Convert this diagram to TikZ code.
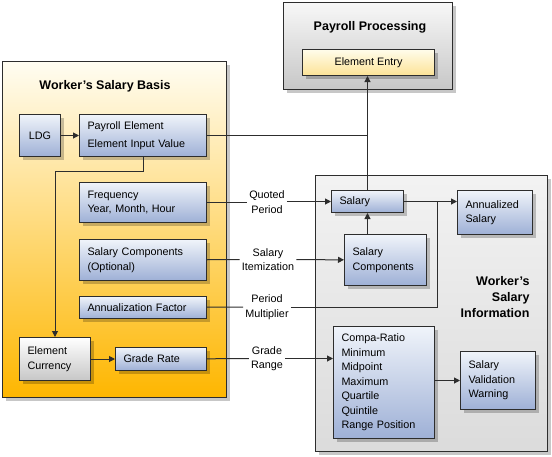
\documentclass[tikz,border=0pt]{standalone}
\usepackage{fontspec}
\setmainfont{Liberation Sans}
\usetikzlibrary{arrows.meta,shadows,calc}

\definecolor{edge}{RGB}{45,45,45}
\definecolor{bluetop}{RGB}{240,244,250}
\definecolor{bluebot}{RGB}{158,176,214}
\definecolor{orgtop}{RGB}{255,253,242}
\definecolor{orgbot}{RGB}{254,182,0}
\definecolor{yeltop}{RGB}{255,252,235}
\definecolor{yelbot}{RGB}{252,226,150}

\begin{document}
\begin{tikzpicture}[x=1pt, y=-1pt,
	every node/.style={font=\fontsize{10.8}{14.5}\selectfont, text=black},
	shade/.style={drop shadow={shadow xshift=3pt, shadow yshift=-3pt, fill=black, opacity=.22}},
	frame/.style={draw=edge, line width=1.1pt, anchor=north west, inner sep=0pt, shade},
	bluebox/.style={draw=edge, line width=1pt, anchor=north west, shade,
		top color=bluetop, bottom color=bluebot, align=left, inner xsep=8pt, inner ysep=0pt},
	graybox/.style={bluebox, top color=white, bottom color=black!22},
	title/.style={font=\bfseries\fontsize{12.5}{16}\selectfont},
	tag/.style={align=center, inner sep=2pt},
	link/.style={draw=edge, line width=1pt},
	arr/.style={link, -{Triangle[length=6pt,width=6pt]}}]
	\useasboundingbox (0,0) rectangle (552,456);

	% outer frames
	\node[frame, minimum width=224pt, minimum height=336pt,
		top color=orgtop, bottom color=orgbot] (basis) at (2,61) {};
	\node[frame, minimum width=169pt, minimum height=87pt,
		top color=black!3, bottom color=black!22] (proc) at (283,2) {};
	\node[frame, minimum width=232pt, minimum height=276pt,
		top color=black!5, bottom color=black!14] (info) at (315,175) {};

	\node[title] (basist) at (105,86) {Worker’s Salary Basis};
	\node[title] (proct) at (370,27) {Payroll Processing};
	\node[title, anchor=north east, align=right]
		(infot) at (533,273) {Worker’s\\Salary\\Information};

	% payroll processing
	\node[bluebox, top color=yeltop, bottom color=yelbot, align=center,
		minimum width=132pt, minimum height=26pt] (entry) at (302,49) {Element Entry};

	% salary basis
	\node[bluebox, align=center, minimum width=41pt, minimum height=42pt, inner xsep=0pt] (ldg) at (19,114) {LDG};
	\node[bluebox, text width=111pt, minimum height=42pt] (payel) at (79,114) {Payroll Element\\[4pt]Element Input Value};
	\node[bluebox, text width=111pt, minimum height=40pt] (freq) at (79,182) {Frequency\\Year, Month, Hour};
	\node[bluebox, text width=111pt, minimum height=41pt] (comp) at (79,239) {Salary Components\\(Optional)};
	\node[bluebox, text width=111pt, minimum height=22pt] (annf) at (79,296) {Annualization Factor};
	\node[graybox, text width=55pt, minimum height=43pt] (cur) at (19,337) {Element\\Currency};
	\node[bluebox, text width=75pt, minimum height=23pt] (grade) at (115,347) {Grade Rate};

	% salary information
	\node[bluebox, text width=56pt, minimum height=22pt] (sal) at (331,190) {Salary};
	\node[bluebox, text width=59pt, minimum height=44pt] (annsal) at (457,190) {Annualized\\Salary};
	\node[bluebox, text width=66pt, minimum height=51pt] (salcomp) at (344,234) {Salary\\Components};
	\node[bluebox, text width=85pt, minimum height=112pt] (compa) at (333,326)
		{Compa-Ratio\\Minimum\\Midpoint\\Maximum\\Quartile\\Quintile\\Range Position};
	\node[bluebox, text width=59pt, minimum height=58pt] (warn) at (460,351) {Salary\\Validation\\Warning};

	% connector labels
	\node[tag] (lquot) at (267,202) {Quoted\\Period};
	\node[tag] (litem) at (268,259.5) {Salary\\Itemization};
	\node[tag] (lmult) at (267,307) {Period\\Multiplier};
	\node[tag] (lgrade) at (267,358.5) {Grade\\Range};
	\coordinate (jn) at (437,201);

	% connectors
	\draw[arr] (ldg) -- (payel);
	\draw[link] (payel.east) -- (payel.east -| sal.north);
	\draw[arr] (sal.north) -- (sal.north |- entry.south);
	\draw[arr] (payel.south) -- ++(0,14) -| (cur.north);
	\draw[arr] (cur) -- (grade);
	\draw[link] (freq.east) -- (lquot.west |- freq.east);
	\draw[arr] (lquot.east |- sal.west) -- (sal.west);
	\draw[link] (comp) -- (litem);
	\draw[arr] (litem) -- (salcomp);
	\draw[link] (annf) -- (lmult);
	\draw[link] (lmult.east) -| (jn);
	\draw[arr] (sal.east) -- (sal.east -| annsal.west);
	\draw[arr] (sal.south |- salcomp.north) -- (sal.south);
	\draw[link] (grade) -- (lgrade);
	\draw[arr] (lgrade.east) -- (lgrade.east -| compa.west);
	\draw[arr] (compa.east |- warn.west) -- (warn.west);
\end{tikzpicture}
\end{document}
